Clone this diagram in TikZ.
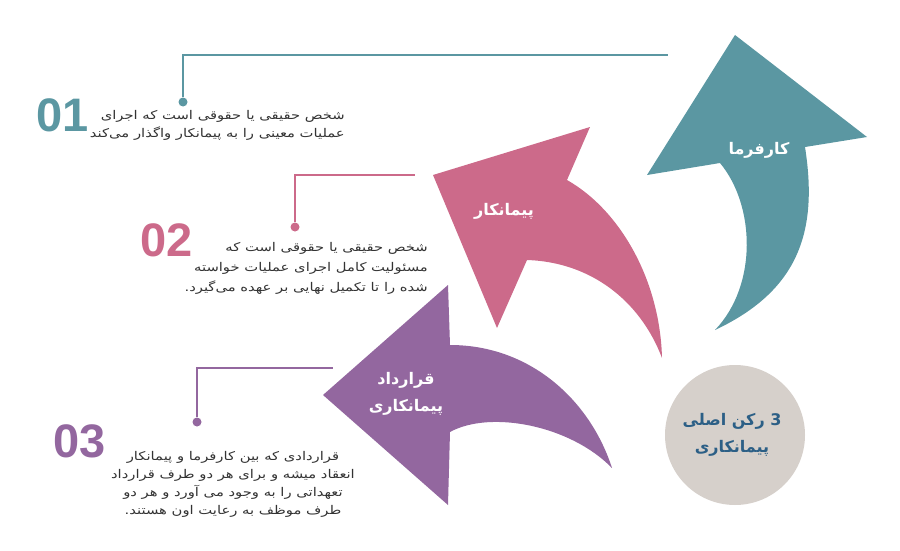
\documentclass[tikz,border=0pt]{standalone}
\usepackage{fontspec}
\setmainfont{DejaVu Sans}
\newfontfamily\fa[Script=Arabic]{DejaVu Sans}
\newfontfamily\fabody[Script=Arabic,FakeStretch=1.23]{DejaVu Sans}
\newfontfamily\numfont{Liberation Sans}
\TeXXeTstate=1
\newcommand{\rl}[1]{\beginR #1\endR}
\definecolor{tealc}{HTML}{5B97A2}
\definecolor{pinkc}{HTML}{CC6A8A}
\definecolor{purplec}{HTML}{93679F}
\definecolor{greyc}{HTML}{D6D0CB}
\definecolor{bluetext}{HTML}{2C5F86}
\definecolor{bodytext}{HTML}{333333}

\begin{document}
\begin{tikzpicture}
  [x=1pt,y=-1pt,every node/.style={inner sep=0pt},
   num/.style={font=\numfont\bfseries\fontsize{47}{47}\selectfont},
   body/.style={font=\fabody\fontsize{12}{18}\selectfont,text=bodytext},
   lab/.style={font=\fa\bfseries\fontsize{16}{27}\selectfont,text=white,align=center},
   dot/.style={circle,minimum size=9pt},
   lead/.style={line width=2pt}]
  \useasboundingbox (0,0) rectangle (900,551);

  % arrows
  \fill[tealc] (735,35) -- (867,137) -- (805,147)
    .. controls (818,230) and (800,290) .. (715,330)
    .. controls (758,285) and (755,205) .. (720,163) -- (647,175) -- cycle;
  \fill[pinkc] (433,175) -- (590,127) -- (567,180)
    .. controls (620,210) and (660,280) .. (662,358)
    .. controls (640,300) and (590,262) .. (527,260) -- (497,328) -- cycle;
  \fill[purplec] (323,395) -- (448,285) -- (450,345)
    .. controls (530,345) and (590,400) .. (612,468)
    .. controls (570,425) and (490,410) .. (450,432) -- (448,505) -- cycle;

  \node[lab] (a1) at (759,150) {\rl{کارفرما}};
  \node[lab] (a2) at (504,211) {\rl{پیمانکار}};
  \node[lab] (a3) at (406,394) {\rl{قرارداد}\\\rl{پیمانکاری}};

  \node[circle,fill=greyc,minimum size=140pt] (core) at (735,435) {};
  \node[font=\fa\bfseries\fontsize{16}{27}\selectfont,text=bluetext,align=center]
    at (732,435) {\rl{3 رکن اصلی}\\\rl{پیمانکاری}};

  % leaders
  \node[dot,fill=tealc] (d1) at (183,102) {};
  \node[dot,fill=pinkc] (d2) at (295,227) {};
  \node[dot,fill=purplec] (d3) at (197,422) {};
  \coordinate (t1) at (668,55);
  \coordinate (t2) at (415,175);
  \coordinate (t3) at (333,368);
  \foreach \from/\to/\c in {d1/t1/tealc,d2/t2/pinkc,d3/t3/purplec}
    \draw[lead,\c] (\from) |- (\to);

  \node[num,text=tealc] (n1) at (63,115) {01};
  \node[num,text=pinkc] (n2) at (167,240) {02};
  \node[num,text=purplec] (n3) at (80,441) {03};

  \node[body,anchor=east,align=right] (txt1) at (345,125)
    {\rl{شخص حقیقی یا حقوقی است که اجرای}\\\rl{عملیات معینی را به پیمانکار واگذار می‌کند}};
  \node[body,anchor=east,align=right,font=\fabody\fontsize{12}{20}\selectfont] (txt2) at (428,268)
    {\rl{شخص حقیقی یا حقوقی است که}\\\rl{مسئولیت کامل اجرای عملیات خواسته}\\\rl{شده را تا تکمیل نهایی بر عهده می‌گیرد.}};
  \node[body,align=center] (txt3) at (233,484)
    {\rl{قراردادی که بین کارفرما و پیمانکار}\\\rl{انعقاد میشه و برای هر دو طرف قرارداد}\\\rl{تعهداتی را به وجود می آورد و هر دو}\\\rl{طرف موظف به رعایت اون هستند.}};
\end{tikzpicture}
\end{document}
